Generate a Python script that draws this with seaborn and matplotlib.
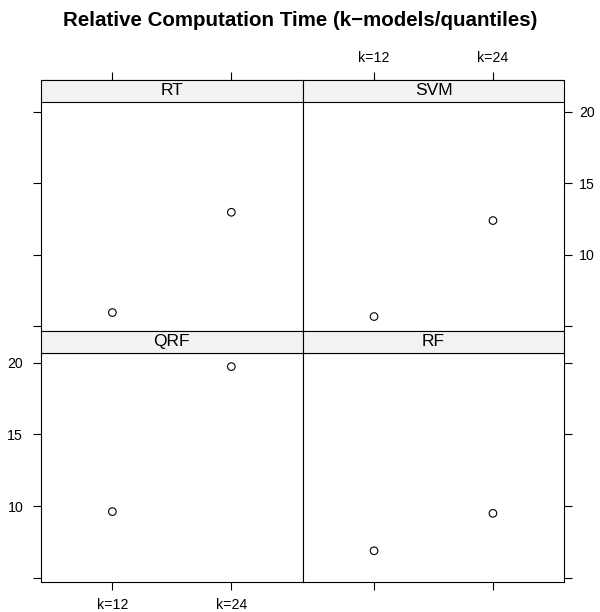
import numpy as np
import pandas as pd
import matplotlib
matplotlib.use("Agg")
import matplotlib.pyplot as plt
import seaborn as sns
from matplotlib.patches import Rectangle

# values
models = ["RT", "SVM", "QRF", "RF"]
k_labels = ["k=12", "k=24"]
rt_time = [5.95, 12.96]
svm_time = [5.67, 12.38]
qrf_time = [9.61, 19.72]
rf_time = [6.88, 9.49]
y_ticks = [5, 10, 15, 20]
y_tick_labels = ["", "10", "15", "20"]

TITLE = "Relative Computation Time (k\u2212models/quantiles)"


def build_frame():
    rows = []
    for name, vals in zip(models, [rt_time, svm_time, qrf_time, rf_time]):
        for k, v in zip(k_labels, vals):
            rows.append({"model": name, "k": k, "time": v})
    return pd.DataFrame(rows)


def main():
    sns.set_style("white")
    plt.rcParams["font.family"] = ["Liberation Sans", "DejaVu Sans"]

    df = build_frame()
    g = sns.FacetGrid(df, col="model", col_wrap=2, col_order=models,
                      sharex=False, sharey=False, despine=False,
                      height=3, aspect=1)
    g.map_dataframe(sns.scatterplot, x="k", y="time", marker="o",
                    facecolors="none", edgecolors="black", s=30, linewidth=0.8)
    g.set_titles("")
    g.set_axis_labels("", "")

    fig = g.figure
    fig.set_size_inches(6, 6.12)
    W, H = 600, 612

    # panel layout in pixels (left, right, top, bottom)
    cols = [(41, 302.7), (302.7, 564.3)]
    rows = [(101.7, 330.7), (352.7, 582.3)]
    strip_h = 21.5

    for i, ax in enumerate(g.axes.flat):
        r, c = divmod(i, 2)
        x0, x1 = cols[c]
        t, b = rows[r]
        ax.set_position([x0 / W, (H - b) / H, (x1 - x0) / W, (b - t) / H])
        ax.set_xlim(-0.6, 1.6)
        ax.set_ylim(4.68, 20.69)
        ax.set_xticks([0, 1])
        ax.set_xticklabels(k_labels)
        ax.set_yticks(y_ticks)
        ax.set_yticklabels(y_tick_labels)
        for sp in ax.spines.values():
            sp.set_color("black")
            sp.set_linewidth(0.8)
        ax.tick_params(axis="both", direction="out", length=5.8, width=0.8,
                       color="black", labelsize=10.2, labelcolor="black")

        if r == 0:
            ax.tick_params(axis="x", bottom=False, labelbottom=False,
                           top=True, labeltop=(c == 1), pad=5)
            ax.spines["top"].set_position(("outward", strip_h * 0.72))
        else:
            ax.tick_params(axis="x", top=False, labeltop=False,
                           bottom=True, labelbottom=(c == 0), pad=5.5)
        if c == 0:
            ax.tick_params(axis="y", right=False, labelright=False,
                           left=True, labelleft=(r == 1), pad=7)
        else:
            ax.tick_params(axis="y", left=False, labelleft=False,
                           right=True, labelright=(r == 0), pad=5)

        hh = strip_h / (b - t)
        ax.add_patch(Rectangle((0, 1), 1, hh, transform=ax.transAxes,
                               facecolor="#F2F2F2", edgecolor="black",
                               linewidth=0.8, clip_on=False, zorder=3))
        ax.text(0.5, 1 + hh / 2, models[i], transform=ax.transAxes,
                ha="center", va="center", fontsize=12.5, color="black",
                zorder=4)

    fig.text(0.5, 1 - 20 / H, TITLE, ha="center", va="center",
             fontsize=14.8, fontweight="bold", color="black")

    fig.savefig("out.png", dpi=100)


if __name__ == "__main__":
    main()
